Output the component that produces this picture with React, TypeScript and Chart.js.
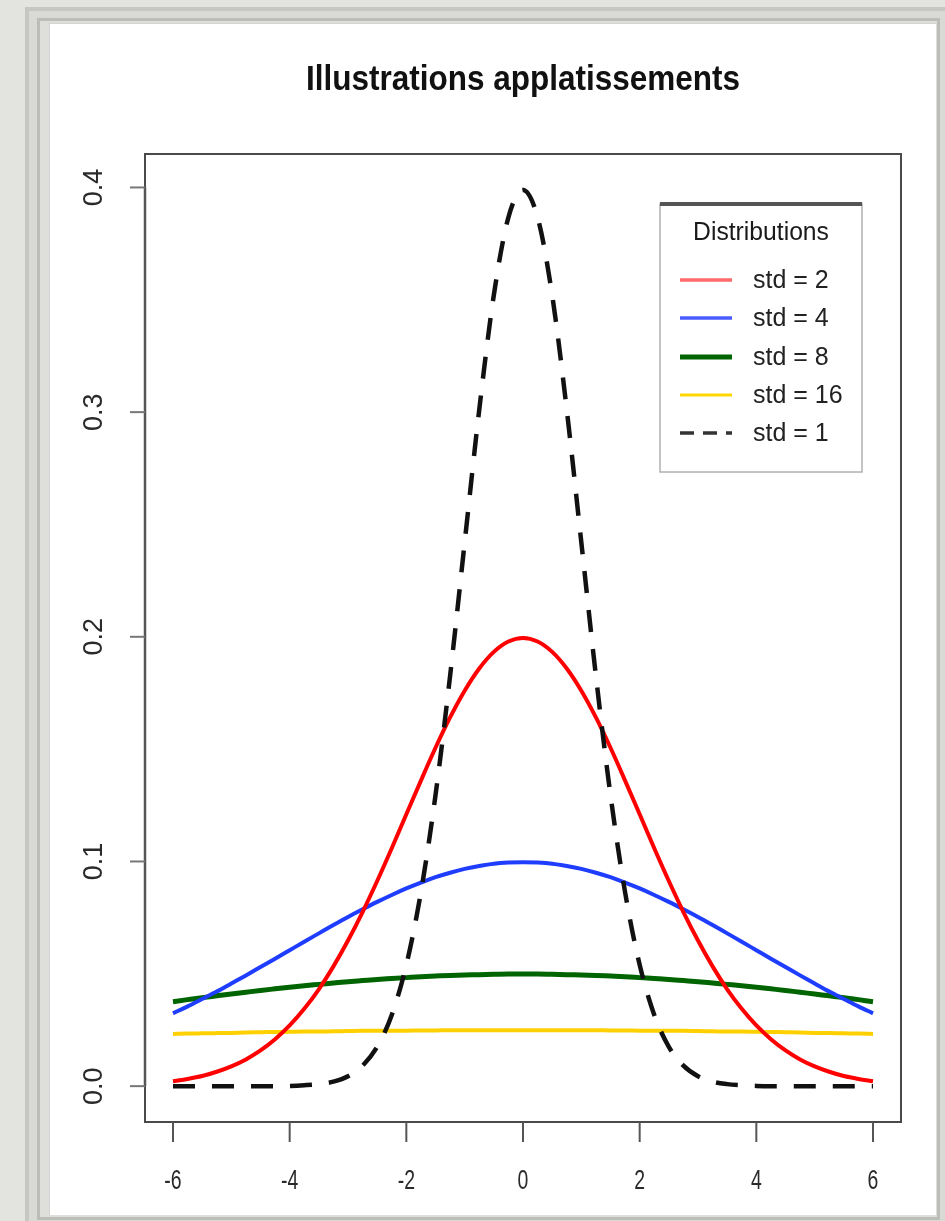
import React, { useEffect, useRef } from "react";
import { Chart, registerables } from "chart.js";

Chart.register(...registerables);

const TITLE = "Illustrations applatissements";
const LEGEND_TITLE = "Distributions";

const X_VALUES = [
  -6, -5.75, -5.5, -5.25, -5, -4.75, -4.5, -4.25, -4, -3.75, -3.5, -3.25, -3, -2.75, -2.5, -2.25,
  -2, -1.75, -1.5, -1.25, -1, -0.75, -0.5, -0.25, 0, 0.25, 0.5, 0.75, 1, 1.25, 1.5, 1.75, 2,
  2.25, 2.5, 2.75, 3, 3.25, 3.5, 3.75, 4, 4.25, 4.5, 4.75, 5, 5.25, 5.5, 5.75, 6,
];

const STD2 = [
  0.0022, 0.0032, 0.0045, 0.0064, 0.0088, 0.0119, 0.0159, 0.0209, 0.027, 0.0344, 0.0431, 0.0533,
  0.0648, 0.0775, 0.0913, 0.1059, 0.121, 0.136, 0.1506, 0.1641, 0.176, 0.1859, 0.1933, 0.1979,
  0.1995,
  0.1979, 0.1933, 0.1859, 0.176, 0.1641, 0.1506, 0.136, 0.121, 0.1059, 0.0913, 0.0775, 0.0648,
  0.0533, 0.0431, 0.0344, 0.027, 0.0209, 0.0159, 0.0119, 0.0088, 0.0064, 0.0045, 0.0032, 0.0022,
];

const STD4 = [
  0.0324, 0.0355, 0.0388, 0.0421, 0.0457, 0.0493, 0.053, 0.0567, 0.0605, 0.0643, 0.068, 0.0717,
  0.0753, 0.0787, 0.082, 0.0851, 0.088, 0.0906, 0.093, 0.095, 0.0967, 0.098, 0.099, 0.0995,
  0.0997,
  0.0995, 0.099, 0.098, 0.0967, 0.095, 0.093, 0.0906, 0.088, 0.0851, 0.082, 0.0787, 0.0753,
  0.0717, 0.068, 0.0643, 0.0605, 0.0567, 0.053, 0.0493, 0.0457, 0.0421, 0.0388, 0.0355, 0.0324,
];

const STD8 = [
  0.0376, 0.0385, 0.0394, 0.0402, 0.041, 0.0418, 0.0426, 0.0433, 0.044, 0.0447, 0.0453, 0.0459,
  0.0465, 0.047, 0.0475, 0.0479, 0.0483, 0.0487, 0.049, 0.0493, 0.0495, 0.0496, 0.0498, 0.0499,
  0.0499,
  0.0499, 0.0498, 0.0496, 0.0495, 0.0493, 0.049, 0.0487, 0.0483, 0.0479, 0.0475, 0.047, 0.0465,
  0.0459, 0.0453, 0.0447, 0.044, 0.0433, 0.0426, 0.0418, 0.041, 0.0402, 0.0394, 0.0385, 0.0376,
];

const STD16 = [
  0.0232, 0.0234, 0.0235, 0.0236, 0.0237, 0.0239, 0.024, 0.0241, 0.0242, 0.0243, 0.0243, 0.0244,
  0.0245, 0.0246, 0.0246, 0.0247, 0.0247, 0.0248, 0.0248, 0.0249, 0.0249, 0.0249, 0.0249, 0.0249,
  0.0249,
  0.0249, 0.0249, 0.0249, 0.0249, 0.0249, 0.0248, 0.0248, 0.0247, 0.0247, 0.0246, 0.0246, 0.0245,
  0.0244, 0.0243, 0.0243, 0.0242, 0.0241, 0.024, 0.0239, 0.0237, 0.0236, 0.0235, 0.0234, 0.0232,
];

const STD1 = [
  0, 0, 0, 0, 0, 0, 0, 0, 0.0001, 0.0004, 0.0009, 0.002, 0.0044, 0.0091, 0.0175, 0.0317, 0.054,
  0.0863, 0.1295, 0.1826, 0.242, 0.3011, 0.3521, 0.3867,
  0.3989,
  0.3867, 0.3521, 0.3011, 0.242, 0.1826, 0.1295, 0.0863, 0.054, 0.0317, 0.0175, 0.0091, 0.0044,
  0.002, 0.0009, 0.0004, 0.0001, 0, 0, 0, 0, 0, 0, 0, 0,
];

const SERIES_LABELS = ["std = 2", "std = 4", "std = 8", "std = 16", "std = 1"];
const X_TICKS = [-6, -4, -2, 0, 2, 4, 6];
const X_TICK_LABELS = ["-6", "-4", "-2", "0", "2", "4", "6"];
const Y_TICKS = [0, 0.1, 0.2, 0.3, 0.4];
const Y_TICK_LABELS = ["0.0", "0.1", "0.2", "0.3", "0.4"];

const FONT = '"Liberation Sans", Arial, Helvetica, sans-serif';

function toPoints(ys: number[]) {
  return X_VALUES.map((x, i) => ({ x, y: ys[i] }));
}

function drawText(
  ctx: CanvasRenderingContext2D,
  text: string,
  x: number,
  y: number,
  font: string,
  opts: { align?: CanvasTextAlign; baseline?: CanvasTextBaseline; scaleX?: number; rotate?: number; color?: string } = {}
) {
  ctx.save();
  ctx.font = font;
  ctx.fillStyle = opts.color || "#1a1a1a";
  ctx.textAlign = opts.align || "left";
  ctx.textBaseline = opts.baseline || "alphabetic";
  ctx.translate(x, y);
  if (opts.rotate) ctx.rotate(opts.rotate);
  ctx.scale(opts.scaleX || 1, 1);
  ctx.fillText(text, 0, 0);
  ctx.restore();
}

const decorPlugin = {
  id: "rDecor",
  afterDraw(chart: any) {
    const ctx: CanvasRenderingContext2D = chart.ctx;
    const area = chart.chartArea;
    const xs = chart.scales.x;
    const ys = chart.scales.y;

    // box
    ctx.save();
    ctx.strokeStyle = "#4a4a4a";
    ctx.lineWidth = 2;
    ctx.strokeRect(area.left, area.top, area.right - area.left, area.bottom - area.top);

    // y axis line + ticks
    ctx.strokeStyle = "#555";
    ctx.lineWidth = 2.5;
    ctx.beginPath();
    ctx.moveTo(area.left, ys.getPixelForValue(Y_TICKS[0]));
    ctx.lineTo(area.left, ys.getPixelForValue(Y_TICKS[Y_TICKS.length - 1]));
    ctx.stroke();
    ctx.lineWidth = 2;
    ctx.strokeStyle = "#777";
    Y_TICKS.forEach((v) => {
      const py = ys.getPixelForValue(v);
      ctx.beginPath();
      ctx.moveTo(area.left - 15, py);
      ctx.lineTo(area.left, py);
      ctx.stroke();
    });
    // x ticks
    ctx.strokeStyle = "#555";
    X_TICKS.forEach((v) => {
      const px = xs.getPixelForValue(v);
      ctx.beginPath();
      ctx.moveTo(px, area.bottom);
      ctx.lineTo(px, area.bottom + 20);
      ctx.stroke();
    });
    ctx.restore();

    // tick labels
    Y_TICKS.forEach((v, i) => {
      drawText(ctx, Y_TICK_LABELS[i], 95, ys.getPixelForValue(v), `27px ${FONT}`, {
        align: "center",
        baseline: "middle",
        rotate: -Math.PI / 2,
        color: "#2a2a2a",
      });
    });
    X_TICKS.forEach((v, i) => {
      drawText(ctx, X_TICK_LABELS[i], xs.getPixelForValue(v), 1189, `27px ${FONT}`, {
        align: "center",
        scaleX: 0.72,
        color: "#2a2a2a",
      });
    });

    // title
    drawText(ctx, TITLE, (area.left + area.right) / 2, 90, `bold 35px ${FONT}`, {
      align: "center",
      scaleX: 0.9,
      color: "#111",
    });

    // legend
    const lx = 660, ly = 204, lw = 202, lh = 268;
    ctx.save();
    ctx.fillStyle = "#fff";
    ctx.fillRect(lx, ly, lw, lh);
    ctx.strokeStyle = "#b0b0b0";
    ctx.lineWidth = 1.5;
    ctx.strokeRect(lx, ly, lw, lh);
    ctx.strokeStyle = "#555";
    ctx.lineWidth = 4;
    ctx.beginPath();
    ctx.moveTo(lx, ly);
    ctx.lineTo(lx + lw, ly);
    ctx.stroke();
    ctx.restore();

    drawText(ctx, LEGEND_TITLE, lx + lw / 2, 233, `26px ${FONT}`, {
      align: "center",
      baseline: "middle",
      scaleX: 0.95,
    });

    const legendColors = ["#ff6a6a", "#4a5cff", "#006400", "#ffd700", "#333333"];
    const legendWidths = [3.5, 3.5, 5, 3, 3.5];
    const rows = [280, 318, 357, 395, 433];
    chart.data.datasets.forEach((ds: any, i: number) => {
      const ry = rows[i];
      ctx.save();
      ctx.strokeStyle = legendColors[i];
      ctx.lineWidth = legendWidths[i];
      if (ds.borderDash && ds.borderDash.length) ctx.setLineDash([14, 9]);
      ctx.beginPath();
      ctx.moveTo(680, ry);
      ctx.lineTo(732, ry);
      ctx.stroke();
      ctx.restore();
      drawText(ctx, ds.label, 753, ry + 1, `25px ${FONT}`, { baseline: "middle", color: "#222" });
    });
  },
};

export default function App() {
  const canvasRef = useRef<HTMLCanvasElement | null>(null);

  useEffect(() => {
    const canvas = canvasRef.current;
    if (!canvas) return;
    const common = {
      fill: false,
      pointRadius: 0,
      pointHoverRadius: 0,
      cubicInterpolationMode: "monotone" as const,
      borderCapStyle: "butt" as const,
    };
    const chart = new Chart(canvas, {
      type: "line",
      data: {
        datasets: [
          { ...common, label: SERIES_LABELS[0], data: toPoints(STD2), borderColor: "#ff0000", borderWidth: 4, order: 1 },
          { ...common, label: SERIES_LABELS[1], data: toPoints(STD4), borderColor: "#1f3dff", borderWidth: 4, order: 2 },
          { ...common, label: SERIES_LABELS[2], data: toPoints(STD8), borderColor: "#006400", borderWidth: 5, order: 3 },
          { ...common, label: SERIES_LABELS[3], data: toPoints(STD16), borderColor: "#ffd000", borderWidth: 4, order: 4 },
          {
            ...common,
            label: SERIES_LABELS[4],
            data: toPoints(STD1),
            borderColor: "#111111",
            borderWidth: 4.5,
            borderDash: [22, 17],
            order: 0,
          },
        ],
      },
      options: {
        animation: false,
        responsive: true,
        maintainAspectRatio: false,
        devicePixelRatio: 1,
        layout: { padding: { left: 145, right: 44, top: 154, bottom: 99 } },
        scales: {
          x: { type: "linear", min: -6.48, max: 6.48, display: false },
          y: { type: "linear", min: -0.01596, max: 0.41489, display: false },
        },
        plugins: {
          legend: { display: false },
          tooltip: { enabled: false },
          title: { display: false },
        },
        events: [],
      },
      plugins: [decorPlugin],
    });
    return () => chart.destroy();
  }, []);

  return (
    <div
      style={{
        position: "absolute",
        left: 0,
        top: 0,
        width: 945,
        height: 1221,
        overflow: "hidden",
        background: "#e3e3df",
      }}
    >
      <div
        style={{
          position: "absolute",
          left: 25,
          top: 7,
          width: 940,
          height: 1240,
          background: "#d9d9d5",
          borderLeft: "4px solid #c6c6c2",
          borderTop: "4px solid #c6c6c2",
          boxSizing: "border-box",
        }}
      />
      <div
        style={{
          position: "absolute",
          left: 37,
          top: 18,
          width: 903,
          height: 1202,
          background: "#dededa",
          border: "3px solid #bcbcb8",
          boxSizing: "border-box",
        }}
      />
      <div
        style={{
          position: "absolute",
          left: 49,
          top: 23,
          width: 887,
          height: 1192,
          background: "#ffffff",
          borderLeft: "1px solid #d4d4d4",
          borderTop: "1px solid #d4d4d4",
          boxSizing: "border-box",
        }}
      />
      <div style={{ position: "absolute", left: 0, top: 0, width: 945, height: 1221 }}>
        <canvas ref={canvasRef} />
      </div>
    </div>
  );
}
